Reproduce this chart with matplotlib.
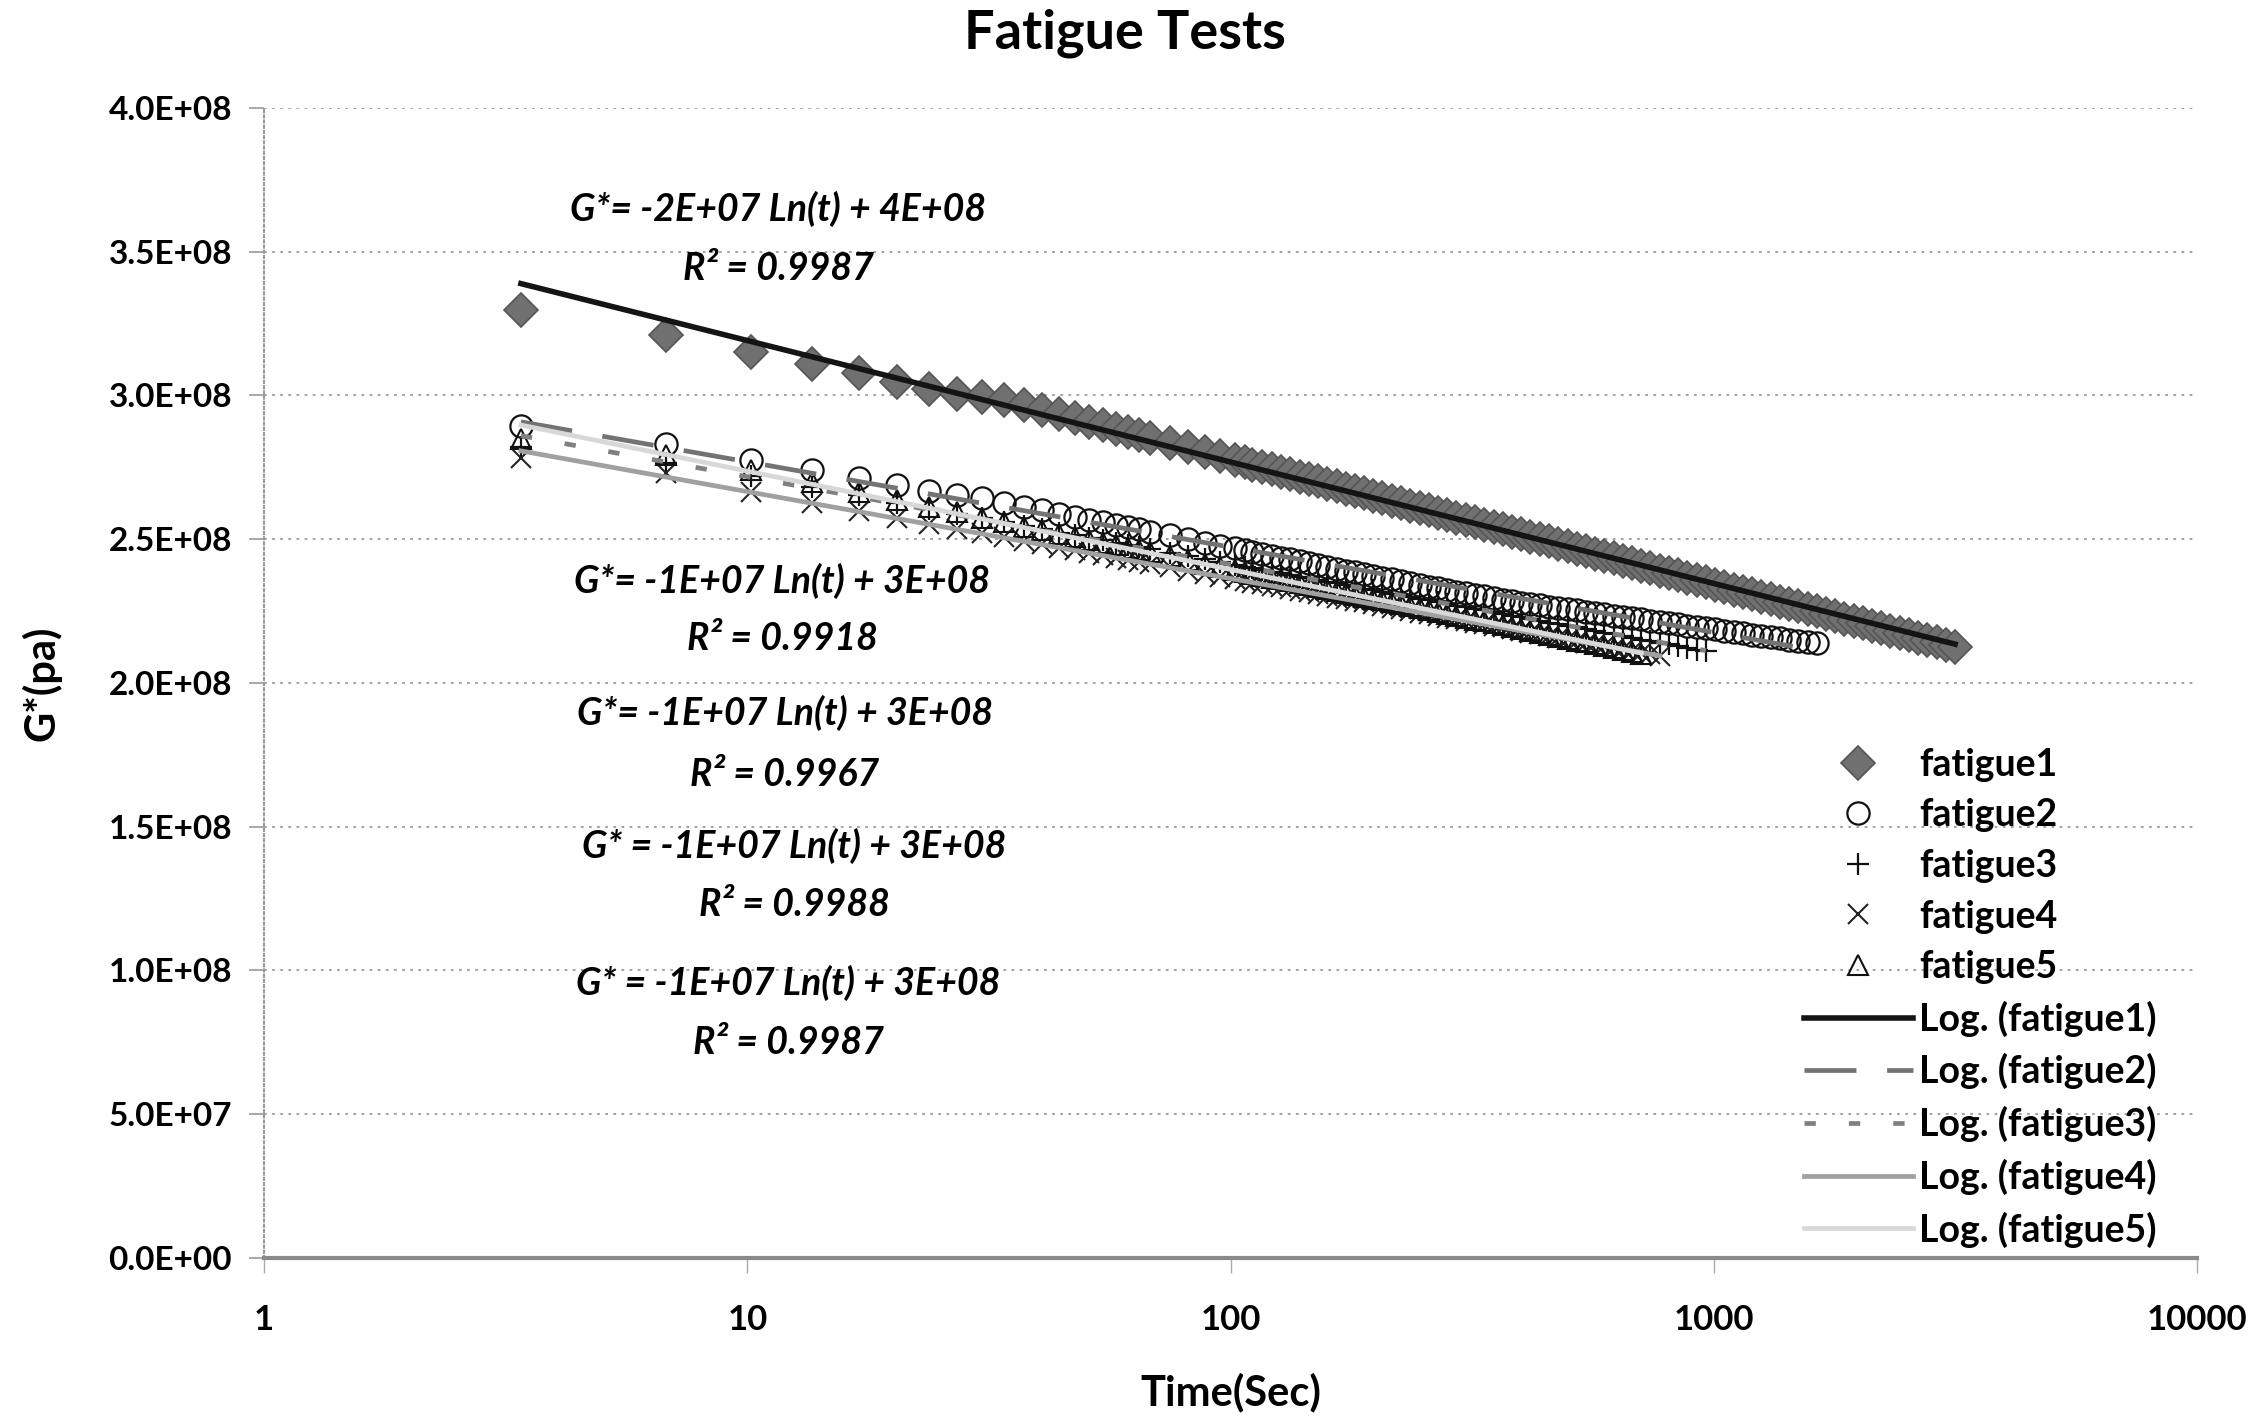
import numpy as np
import matplotlib
matplotlib.use("Agg")
import matplotlib.pyplot as plt
from matplotlib.ticker import FixedLocator, FuncFormatter, NullLocator
from matplotlib.lines import Line2D

plt.rcParams['font.family'] = ['Lato', 'DejaVu Sans']
plt.rcParams['font.weight'] = 'bold'

# sampling times (s), shared by all five tests; each test stops at its own length
time_s = [3.4, 6.8, 10.2, 13.6, 17.0, 20.4, 23.8, 27.2, 30.6, 34.0,
          37.4, 40.8, 44.2, 47.6, 51.0, 54.4, 57.8, 61.2, 64.6, 68.0,
          74.8, 81.6, 88.4, 95.2,
          102, 107, 111, 116, 122, 127, 133, 139, 145, 152,
          158, 166, 173, 181, 189, 197, 206, 216, 225, 235,
          246, 257, 269, 281, 293, 307, 320, 335, 350, 366,
          382, 399, 417, 436, 456, 476, 498, 520, 543, 568,
          593, 620, 648, 677, 708, 739, 773, 807, 844, 882,
          921, 963, 1006, 1051, 1099, 1148, 1200, 1254, 1311, 1370,
          1431, 1496, 1563, 1633, 1707, 1782, 1862, 1946, 2033, 2124,
          2219, 2319, 2423, 2532, 2646, 2765, 2889, 3019, 3156]

# G* values in units of 1e8 Pa
fatigue1 = [3.297, 3.210, 3.152, 3.110, 3.077, 3.048, 3.022, 3.006, 2.995, 2.985,
            2.967, 2.950, 2.935, 2.921, 2.908, 2.896, 2.884, 2.873, 2.863, 2.853,
            2.835, 2.819, 2.803, 2.789,
            2.776, 2.768, 2.759, 2.751, 2.743, 2.734, 2.726, 2.717, 2.709, 2.701,
            2.692, 2.684, 2.676, 2.667, 2.659, 2.651, 2.642, 2.634, 2.626, 2.617,
            2.609, 2.600, 2.592, 2.584, 2.575, 2.567, 2.559, 2.550, 2.542, 2.534,
            2.525, 2.517, 2.508, 2.500, 2.492, 2.483, 2.475, 2.467, 2.458, 2.450,
            2.442, 2.433, 2.425, 2.417, 2.408, 2.400, 2.391, 2.383, 2.375, 2.366,
            2.358, 2.350, 2.341, 2.333, 2.325, 2.316, 2.308, 2.299, 2.291, 2.283,
            2.274, 2.266, 2.258, 2.249, 2.241, 2.233, 2.224, 2.216, 2.208, 2.199,
            2.191, 2.182, 2.174, 2.166, 2.157, 2.149, 2.141, 2.132, 2.124]
fatigue2 = [2.895, 2.830, 2.776, 2.742, 2.713, 2.690, 2.667, 2.654, 2.642, 2.627,
            2.613, 2.600, 2.589, 2.578, 2.568, 2.559, 2.550, 2.542, 2.534, 2.526,
            2.513, 2.500, 2.488, 2.478,
            2.468, 2.462, 2.455, 2.449, 2.442, 2.436, 2.430, 2.423, 2.417, 2.411,
            2.404, 2.398, 2.391, 2.385, 2.379, 2.372, 2.366, 2.360, 2.353, 2.347,
            2.340, 2.334, 2.329, 2.323, 2.318, 2.312, 2.307, 2.301, 2.296, 2.290,
            2.285, 2.279, 2.274, 2.270, 2.265, 2.261, 2.256, 2.252, 2.248, 2.243,
            2.239, 2.234, 2.230, 2.226, 2.221, 2.217, 2.212, 2.208, 2.204, 2.199,
            2.195, 2.190, 2.186, 2.182, 2.177, 2.173, 2.168, 2.164, 2.160, 2.155,
            2.151, 2.146, 2.142, 2.138]
fatigue3 = [2.820, 2.765, 2.720, 2.681, 2.652, 2.627, 2.606, 2.589, 2.573, 2.559,
            2.546, 2.534, 2.523, 2.514, 2.504, 2.496, 2.488, 2.480, 2.473, 2.466,
            2.453, 2.441, 2.431, 2.421,
            2.411, 2.405, 2.399, 2.393, 2.387, 2.382, 2.376, 2.370, 2.364, 2.358,
            2.352, 2.346, 2.340, 2.334, 2.328, 2.323, 2.317, 2.311, 2.305, 2.299,
            2.293, 2.287, 2.281, 2.275, 2.269, 2.264, 2.258, 2.252, 2.246, 2.240,
            2.234, 2.228, 2.222, 2.216, 2.210, 2.205, 2.199, 2.193, 2.187, 2.181,
            2.175, 2.169, 2.163, 2.157, 2.151, 2.146, 2.140, 2.134, 2.128, 2.122,
            2.116, 2.110]
fatigue4 = [2.783, 2.730, 2.665, 2.627, 2.597, 2.573, 2.553, 2.535, 2.520, 2.506,
            2.493, 2.482, 2.471, 2.461, 2.452, 2.444, 2.436, 2.428, 2.421, 2.414,
            2.402, 2.390, 2.380, 2.370,
            2.361, 2.355, 2.349, 2.344, 2.338, 2.332, 2.326, 2.320, 2.315, 2.309,
            2.303, 2.297, 2.291, 2.285, 2.280, 2.274, 2.268, 2.262, 2.256, 2.251,
            2.245, 2.239, 2.233, 2.227, 2.222, 2.216, 2.210, 2.204, 2.198, 2.193,
            2.187, 2.181, 2.175, 2.169, 2.163, 2.158, 2.152, 2.146, 2.140, 2.134,
            2.129, 2.123, 2.117, 2.111, 2.105, 2.100, 2.094]
fatigue5 = [2.850, 2.793, 2.741, 2.698, 2.664, 2.636, 2.613, 2.593, 2.575, 2.559,
            2.544, 2.531, 2.519, 2.508, 2.498, 2.488, 2.479, 2.470, 2.462, 2.454,
            2.440, 2.427, 2.415, 2.404,
            2.393, 2.386, 2.380, 2.373, 2.366, 2.360, 2.353, 2.346, 2.340, 2.333,
            2.327, 2.320, 2.313, 2.307, 2.300, 2.293, 2.287, 2.280, 2.273, 2.267,
            2.260, 2.254, 2.247, 2.240, 2.234, 2.227, 2.220, 2.214, 2.207, 2.200,
            2.194, 2.187, 2.180, 2.174, 2.167, 2.161, 2.154, 2.147, 2.141, 2.134,
            2.127, 2.121, 2.114, 2.107, 2.101]

series_names = ['fatigue1', 'fatigue2', 'fatigue3', 'fatigue4', 'fatigue5']
series_data = [fatigue1, fatigue2, fatigue3, fatigue4, fatigue5]

equations = ["G*= -2E+07 Ln(t) + 4E+08", "G*= -1E+07 Ln(t) + 3E+08",
             "G*= -1E+07 Ln(t) + 3E+08", "G* = -1E+07 Ln(t) + 3E+08",
             "G* = -1E+07 Ln(t) + 3E+08"]
r_squared = ["0.9987", "0.9918", "0.9967", "0.9988", "0.9987"]

y_ticks = np.arange(0, 4.01e8, 0.5e8)
x_ticks = [1, 10, 100, 1000, 10000]

# marker styles per test: (marker, size, face, edge, edge width)
marker_style = [
    ('D', 17, '#707070', '#555555', 1.2),
    ('o', 16, 'none', '#111111', 1.6),
    ('+', 16, 'none', '#111111', 1.6),
    ('x', 14, 'none', '#222222', 1.5),
    ('^', 15, 'none', '#111111', 1.5),
]
# trendline styles: (color, width, linestyle)
trend_style = [
    ('#141414', 4.0, '-'),
    ('#737373', 3.4, (0, (11, 6.5))),
    ('#808080', 3.4, (0, (2.4, 7))),
    ('#a0a0a0', 3.4, '-'),
    ('#d8d8d8', 3.4, '-'),
]

fig = plt.figure(figsize=(22.59, 14.24), dpi=100)
ax = fig.add_axes([0.1169, 0.1166, 0.9726 - 0.1169, 0.9242 - 0.1166])

handles_pts = []
handles_lines = []
for name, vals, ms, ts in zip(series_names, series_data, marker_style, trend_style):
    t = np.array(time_s[:len(vals)])
    g = np.array(vals) * 1e8
    mk, size, fc, ec, mew = ms
    ax.plot(t, g, linestyle='none', marker=mk, markersize=size,
            markerfacecolor=fc, markeredgecolor=ec, markeredgewidth=mew, zorder=2)
    handles_pts.append(Line2D([], [], linestyle='none', marker=mk, markersize=size,
                              markerfacecolor=fc, markeredgecolor=ec, markeredgewidth=mew))
    # logarithmic trendline, like Excel's Log. fit
    slope, intercept = np.polyfit(np.log(t), g, 1)
    tt = np.geomspace(t[0], t[-1], 200)
    col, lw, ls = ts
    ax.plot(tt, slope * np.log(tt) + intercept, color=col, lw=lw, linestyle=ls, zorder=3)
    handles_lines.append(Line2D([], [], color=col, lw=lw, linestyle=ls))

ax.set_xscale('log')
ax.set_xlim(1, 10000)
ax.set_ylim(0, 4e8)
ax.xaxis.set_major_locator(FixedLocator(x_ticks))
ax.xaxis.set_minor_locator(NullLocator())
ax.xaxis.set_major_formatter(FuncFormatter(lambda v, p: f"{v:g}"))
ax.yaxis.set_major_locator(FixedLocator(y_ticks))
ax.yaxis.set_major_formatter(FuncFormatter(lambda v, p: f"{v:.1E}"))

for v in y_ticks[1:]:
    ax.axhline(v, color='#9a9a9a', lw=1.3, linestyle=(0, (1.5, 3)), zorder=0)

for side in ['top', 'right']:
    ax.spines[side].set_visible(False)
ax.spines['bottom'].set_color('#8a8a8a')
ax.spines['bottom'].set_linewidth(3)
ax.spines['left'].set_color('#999999')
ax.spines['left'].set_linewidth(1.5)
ax.spines['left'].set_linestyle((0, (1, 1.5)))

ax.tick_params(axis='y', length=11, width=1.2, color='#999999', pad=12, labelsize=24)
ax.tick_params(axis='x', length=11, width=1.0, color='#aaaaaa', pad=22, labelsize=25)

ax.set_xlabel('Time(Sec)', fontsize=30, fontweight='bold')
ax.set_ylabel('G*(pa)', fontsize=30, fontweight='bold')
ax.xaxis.set_label_coords(0.5, -0.100)
ax.yaxis.set_label_coords(-0.105, 0.5)
fig.text(0.498, 0.977, 'Fatigue Tests', fontsize=39, fontweight='bold',
         ha='center', va='center')

# trendline labels, positions in figure pixels
eq_pos = [(778, 209, 269), (782, 581, 638), (785, 713, 774), (794, 846, 905), (788, 983, 1042)]
W, H = 2259, 1424
for eq, r2, (x, y1, y2) in zip(equations, r_squared, eq_pos):
    fig.text(x / W, 1 - y1 / H, eq, fontsize=27, fontweight='bold', style='italic',
             ha='center', va='center')
    fig.text(x / W, 1 - y2 / H, "R² = " + r2, fontsize=27, fontweight='bold', style='italic',
             ha='center', va='center')

labels = series_names + [f"Log. ({n})" for n in series_names]
leg = fig.legend(handles_pts + handles_lines, labels, loc='upper left',
                 bbox_to_anchor=(1804 / W, 1 - 748 / H), frameon=False,
                 fontsize=27, handlelength=2.9, handletextpad=0.17,
                 labelspacing=0.44, borderpad=0, borderaxespad=0)
for txt in leg.get_texts():
    txt.set_fontweight('bold')

fig.savefig('out.png', dpi=100, facecolor='white')
